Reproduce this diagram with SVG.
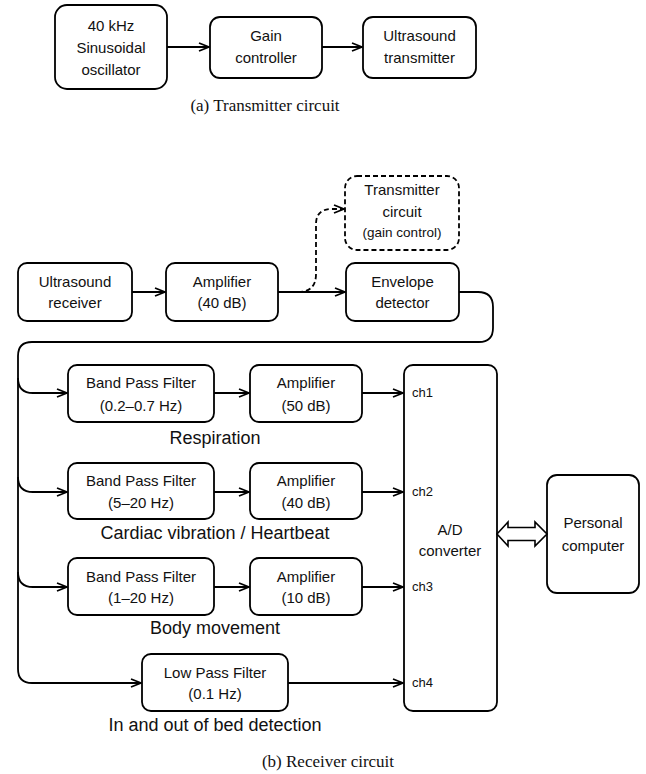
<svg xmlns="http://www.w3.org/2000/svg" width="646" height="774" viewBox="0 0 646 774">
<style>
.box{fill:#fff;stroke:#000;stroke-width:1.8}
.dbox{fill:#fff;stroke:#000;stroke-width:1.8;stroke-dasharray:5 3}
.t{font-family:"Liberation Sans",Arial,sans-serif;font-size:15px;text-anchor:middle;fill:#111}
.s{font-family:"Liberation Sans",Arial,sans-serif;font-size:13px;fill:#111}
.l{font-family:"Liberation Sans",Arial,sans-serif;font-size:18px;text-anchor:middle;fill:#111}
.cap{font-family:"Liberation Serif","Times New Roman",serif;font-size:17px;text-anchor:middle;fill:#111}
.c{fill:none;stroke:#000;stroke-width:1.8}
.cd{fill:none;stroke:#000;stroke-width:1.8;stroke-dasharray:5 3}
</style>
<defs>
<marker id="ah" viewBox="0 0 12 10" refX="11" refY="5" markerWidth="12" markerHeight="10" markerUnits="userSpaceOnUse" orient="auto">
<path d="M1,1 L11,5 L1,9" fill="none" stroke="#000" stroke-width="1.8"/>
</marker>
</defs>

<g id="oscillator"><rect class="box" x="55" y="5" width="112" height="84" rx="12"/>
<text class="t" x="111" y="31">40 kHz</text><text class="t" x="111" y="53">Sinusoidal</text><text class="t" x="111" y="75">oscillator</text></g>
<g id="gain"><rect class="box" x="210" y="17" width="112" height="61" rx="10"/>
<text class="t" x="266" y="41">Gain</text><text class="t" x="266" y="63">controller</text></g>
<g id="utx"><rect class="box" x="363" y="17" width="113" height="61" rx="10"/>
<text class="t" x="419.5" y="41">Ultrasound</text><text class="t" x="419.5" y="63">transmitter</text></g>
<text class="cap" x="265" y="111">(a) Transmitter circuit</text>

<g id="urx"><rect class="box" x="18" y="263" width="114" height="58" rx="9"/>
<text class="t" x="75" y="287">Ultrasound</text><text class="t" x="75" y="308">receiver</text></g>
<g id="amp40a"><rect class="box" x="166" y="263" width="112" height="58" rx="9"/>
<text class="t" x="222" y="287">Amplifier</text><text class="t" x="222" y="308">(40 dB)</text></g>
<g id="env"><rect class="box" x="346" y="263" width="113" height="58" rx="9"/>
<text class="t" x="402.5" y="287">Envelope</text><text class="t" x="402.5" y="308">detector</text></g>
<g id="txc"><rect class="dbox" x="345" y="176" width="114" height="74" rx="12"/>
<text class="t" x="402" y="195">Transmitter</text><text class="t" x="402" y="217">circuit</text><text class="t" x="402" y="237" style="font-size:13.5px">(gain control)</text></g>

<g id="bpf1"><rect class="box" x="68" y="365" width="146" height="57" rx="9"/>
<text class="t" x="141" y="388">Band Pass Filter</text><text class="t" x="141" y="411">(0.2–0.7 Hz)</text></g>
<g id="amp50"><rect class="box" x="250" y="365" width="112" height="57" rx="9"/>
<text class="t" x="306" y="388">Amplifier</text><text class="t" x="306" y="411">(50 dB)</text></g>
<text class="l" x="215" y="444">Respiration</text>

<g id="bpf2"><rect class="box" x="68" y="463" width="146" height="56" rx="9"/>
<text class="t" x="141" y="486">Band Pass Filter</text><text class="t" x="141" y="508">(5–20 Hz)</text></g>
<g id="amp40b"><rect class="box" x="250" y="463" width="112" height="56" rx="9"/>
<text class="t" x="306" y="486">Amplifier</text><text class="t" x="306" y="508">(40 dB)</text></g>
<text class="l" x="215" y="539">Cardiac vibration / Heartbeat</text>

<g id="bpf3"><rect class="box" x="68" y="558" width="146" height="57" rx="9"/>
<text class="t" x="141" y="582">Band Pass Filter</text><text class="t" x="141" y="603">(1–20 Hz)</text></g>
<g id="amp10"><rect class="box" x="250" y="558" width="112" height="57" rx="9"/>
<text class="t" x="306" y="582">Amplifier</text><text class="t" x="306" y="603">(10 dB)</text></g>
<text class="l" x="215" y="634">Body movement</text>

<g id="lpf"><rect class="box" x="142" y="654" width="146" height="57" rx="9"/>
<text class="t" x="215" y="678">Low Pass Filter</text><text class="t" x="215" y="699">(0.1 Hz)</text></g>
<text class="l" x="215" y="731">In and out of bed detection</text>

<g id="adc"><rect class="box" x="404" y="365" width="93" height="346" rx="9"/>
<text class="s" x="412" y="397">ch1</text><text class="s" x="412" y="496">ch2</text><text class="s" x="412" y="591">ch3</text><text class="s" x="412" y="687">ch4</text>
<text class="t" x="450" y="535">A/D</text><text class="t" x="450" y="556">converter</text></g>
<g id="pc"><rect class="box" x="547" y="475" width="92" height="118" rx="10"/>
<text class="t" x="593" y="528">Personal</text><text class="t" x="593" y="551">computer</text></g>
<text class="cap" x="328" y="767">(b) Receiver circuit</text>

<g id="connectors">
<line class="c" x1="167" y1="47" x2="209" y2="47" marker-end="url(#ah)"/>
<line class="c" x1="322" y1="47" x2="362" y2="47" marker-end="url(#ah)"/>
<line class="c" x1="132" y1="292" x2="165" y2="292" marker-end="url(#ah)"/>
<line class="c" x1="278" y1="292" x2="345" y2="292" marker-end="url(#ah)"/>
<path class="cd" d="M298,292 Q316,292 316,274 L316,224 Q316,209 332,209 L344,209" marker-end="url(#ah)"/>
<path class="c" d="M459,292 L478,292 Q493,292 493,307 L493,328 Q493,342 479,342 L32,342 Q18,342 18,356 L18,669 Q18,683 32,683 L141,683" marker-end="url(#ah)"/>
<path class="c" d="M18,378 Q18,393 33,393 L67,393" marker-end="url(#ah)"/>
<path class="c" d="M18,477 Q18,492 33,492 L67,492" marker-end="url(#ah)"/>
<path class="c" d="M18,572 Q18,587 33,587 L67,587" marker-end="url(#ah)"/>
<line class="c" x1="214" y1="393" x2="249" y2="393" marker-end="url(#ah)"/>
<line class="c" x1="214" y1="492" x2="249" y2="492" marker-end="url(#ah)"/>
<line class="c" x1="214" y1="587" x2="249" y2="587" marker-end="url(#ah)"/>
<line class="c" x1="362" y1="393" x2="403" y2="393" marker-end="url(#ah)"/>
<line class="c" x1="362" y1="492" x2="403" y2="492" marker-end="url(#ah)"/>
<line class="c" x1="362" y1="587" x2="403" y2="587" marker-end="url(#ah)"/>
<line class="c" x1="288" y1="683" x2="403" y2="683" marker-end="url(#ah)"/>
<path d="M497,534 L508,522 L508,527.5 L535,527.5 L535,522 L547,534 L535,546 L535,540.5 L508,540.5 L508,546 Z" fill="#fff" stroke="#000" stroke-width="1.6" stroke-linejoin="miter"/>
</g>
</svg>
